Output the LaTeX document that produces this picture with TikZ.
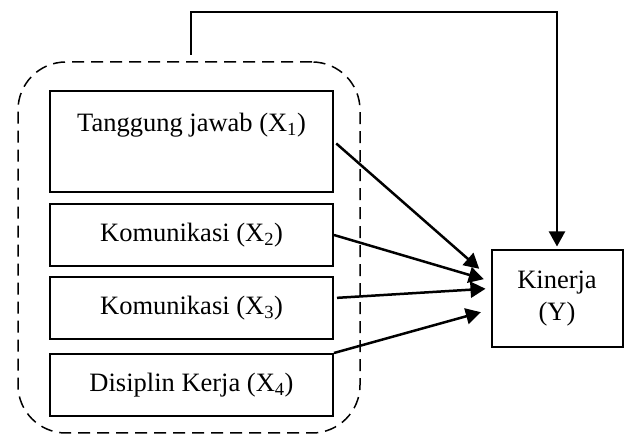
\documentclass[tikz,border=0pt]{standalone}
\usepackage{fontspec}
\setmainfont{Liberation Serif}
\usetikzlibrary{arrows.meta,positioning}

\begin{document}
\begin{tikzpicture}[x=1pt,y=1pt,node distance=10pt,>={Triangle[length=15pt,width=16pt]},font=\fontsize{26.5}{32}\selectfont]
\tikzstyle{box}=[rectangle,draw=black,line width=2pt,align=center,minimum width=283pt,minimum height=62pt]
\tikzstyle{grp}=[rectangle,draw=black,line width=1.5pt,dash pattern=on 12pt off 7pt,rounded corners=48pt,minimum width=342pt,minimum height=371pt]
\tikzstyle{arr}=[->,line width=2.5pt]
\useasboundingbox (0,0) rectangle (625,-435);
\node[grp] (grp) at (189,-247.5) {};
\node[box,minimum height=0pt,inner sep=0pt,text height=41pt,text depth=60pt] (x1) at (191.5,-141.5) {Tanggung jawab (X\textsubscript{1})};
\node[box,below=of x1] (x2) {Komunikasi (X\textsubscript{2})};
\node[box,below=9pt of x2] (x3) {Komunikasi (X\textsubscript{3})};
\node[box,below=13pt of x3] (x4) {Disiplin Kerja (X\textsubscript{4})};
\node[box,minimum width=131pt,minimum height=97pt] (y) at (557,-299) {Kinerja\\(Y)};
\coordinate (g) at (190.5,-55);
\draw[arr,line width=2pt,shorten >=3pt] (g) -- ++(0,43) -| (y);
\draw[arr,shorten <=3pt,shorten >=15pt] (x1.east) -- (y.163);
\draw[arr,shorten >=7pt] (x2.east) -- (y.165);
\draw[arr,shorten <=3pt,shorten >=5pt] (x3.4) -- (y.171);
\draw[arr,shorten >=10pt] (x4.north east) -- (y.189);
\end{tikzpicture}
\end{document}
